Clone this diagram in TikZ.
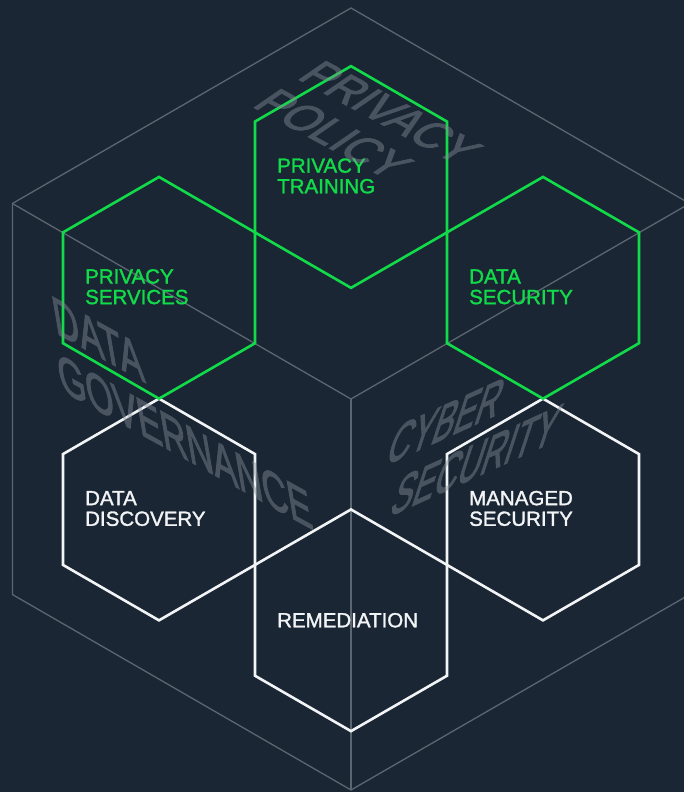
\documentclass[tikz,border=0pt]{standalone}
\usepackage{fontspec}
\setmainfont{Liberation Sans}
\newfontfamily\facefont[FakeBold=2.5]{Liberation Sans}
\newfontfamily\labfont[FakeBold=1.5]{Liberation Sans}
\definecolor{bg}{HTML}{1B2634}
\definecolor{cubeline}{HTML}{5C6671}
\definecolor{hexgreen}{HTML}{12DB4A}
\definecolor{hexwhite}{HTML}{F2F4F5}
\definecolor{facetext}{RGB}{130,140,150}
\begin{document}
\begin{tikzpicture}[x=1pt,y=-1pt,
  cubeedge/.style={draw=cubeline, line width=1.3pt},
  greenhex/.style={draw=hexgreen, line width=2.6pt, line join=miter},
  whitehex/.style={draw=hexwhite, line width=2.6pt, line join=miter},
  lab/.style={anchor=base west, inner sep=0pt, font=\labfont\fontsize{20.5}{22}\selectfont},
  greenlab/.style={lab, text=hexgreen},
  whitelab/.style={lab, text=hexwhite},
  facelab/.style={anchor=base west, inner sep=0pt, text=facetext, font=\facefont\fontsize{42}{42}\selectfont},
]
\fill[bg] (0,0) rectangle (684,792);
\useasboundingbox (0,0) rectangle (684,792);

% cube outline
\coordinate (ctop) at (351,8);
\coordinate (cul) at (12.4,203.5);
\coordinate (cll) at (12.4,594.5);
\coordinate (cbot) at (351,790);
\coordinate (clr) at (689.6,594.5);
\coordinate (cur) at (689.6,203.5);
\coordinate (cc) at (351,399);
\draw[cubeedge] (ctop) -- (cul) -- (cll) -- (cbot) -- (clr) -- (cur) -- cycle;
\draw[cubeedge] (cc) -- (cul);
\draw[cubeedge] (cc) -- (cur);
\draw[cubeedge] (cc) -- (cbot);

% hexagon centres
\coordinate (hPT) at (351,177);
\coordinate (hPS) at (159,287.8);
\coordinate (hDS) at (543,287.8);
\coordinate (hDD) at (159,509.5);
\coordinate (hMS) at (543,509.5);
\coordinate (hRE) at (351,620.3);

\def\hs{110.85}
\foreach \h in {hDD,hMS,hRE}{
  \draw[whitehex] (\h) +(90:\hs) -- +(150:\hs) -- +(210:\hs) -- +(270:\hs) -- +(330:\hs) -- +(30:\hs) -- cycle;
}
\foreach \h in {hPT,hPS,hDS}{
  \draw[greenhex] (\h) +(90:\hs) -- +(150:\hs) -- +(210:\hs) -- +(270:\hs) -- +(330:\hs) -- +(30:\hs) -- cycle;
}

% labels
\node[greenlab] (ptA) at ([shift={(-74,-4.3)}]hPT) {PRIVACY};
\node[greenlab] (ptB) at ([shift={(-74,16.3)}]hPT) {TRAINING};
\node[greenlab] (psA) at ([shift={(-74,-4.3)}]hPS) {PRIVACY};
\node[greenlab] (psB) at ([shift={(-74,16.3)}]hPS) {SERVICES};
\node[greenlab] (dsA) at ([shift={(-74,-4.3)}]hDS) {DATA};
\node[greenlab] (dsB) at ([shift={(-74,16.3)}]hDS) {SECURITY};
\node[whitelab] (ddA) at ([shift={(-74,-4.3)}]hDD) {DATA};
\node[whitelab] (ddB) at ([shift={(-74,16.3)}]hDD) {DISCOVERY};
\node[whitelab] (msA) at ([shift={(-74,-4.3)}]hMS) {MANAGED};
\node[whitelab] (msB) at ([shift={(-74,16.3)}]hMS) {SECURITY};
\node[whitelab] (reA) at ([shift={(-74,7)}]hRE) {REMEDIATION};

% face titles (isometric), composited as one translucent group
\begin{scope}[transparency group, opacity=0.45]
\begin{scope}[shift={(296,78)}]
  \node[facelab, cm={0.89,-0.48,0.93,0.64,(0,0)}] (fpA) at (0,0) {PRIVACY};
\end{scope}
\begin{scope}[shift={(251,106)}]
  \node[facelab, cm={0.89,-0.48,0.93,0.64,(0,0)}] (fpB) at (0,0) {POLICY};
\end{scope}
\begin{scope}[shift={(56,333)}]
  \node[facelab, cm={0.848,-0.47,-0.225,1.31,(0,0)}] (fdA) at (0,0) {DATA};
\end{scope}
\begin{scope}[shift={(61,390)}]
  \node[facelab, cm={0.848,-0.47,-0.225,1.31,(0,0)}] (fdB) at (0,0) {GOVERNANCE};
\end{scope}
\begin{scope}[shift={(384,466)}]
  \node[facelab, cm={0.77,0.35,0.44,1.35,(0,0)}] (fcA) at (0,0) {CYBER};
\end{scope}
\begin{scope}[shift={(388,517)}]
  \node[facelab, cm={0.77,0.35,0.44,1.35,(0,0)}] (fcB) at (0,0) {SECURITY};
\end{scope}
\end{scope}
\end{tikzpicture}
\end{document}
